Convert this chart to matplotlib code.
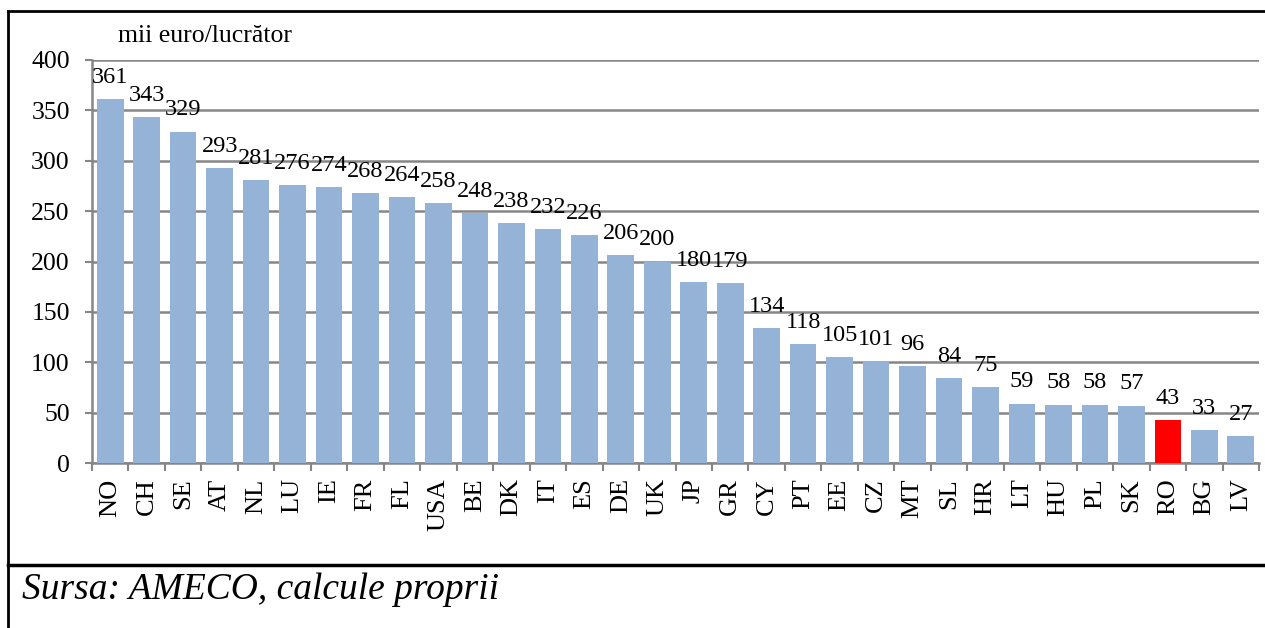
import numpy as np
import matplotlib.pyplot as plt
from matplotlib.lines import Line2D

plt.rcParams['font.family'] = ['Liberation Serif', 'DejaVu Serif']

# Productivity per worker, thousand euro
countries = ['NO', 'CH', 'SE', 'AT', 'NL', 'LU', 'IE', 'FR', 'FL', 'USA', 'BE', 'DK',
             'IT', 'ES', 'DE', 'UK', 'JP', 'GR', 'CY', 'PT', 'EE', 'CZ', 'MT', 'SL',
             'HR', 'LT', 'HU', 'PL', 'SK', 'RO', 'BG', 'LV']
values = [361, 343, 329, 293, 281, 276, 274, 268, 264, 258, 248, 238,
          232, 226, 206, 200, 180, 179, 134, 118, 105, 101, 96, 84,
          75, 59, 58, 58, 57, 43, 33, 27]
highlight = 'RO'
y_ticks = [0, 50, 100, 150, 200, 250, 300, 350, 400]

blue = '#95B3D7'
red = '#FF0000'
grid_col = '#868686'

fig = plt.figure(figsize=(12.65, 6.28), dpi=100)
ax = fig.add_axes([92 / 1265, 1 - 463 / 628, (1259 - 92) / 1265, (463 - 60) / 628])

x = np.arange(len(countries))
colors = [red if c == highlight else blue for c in countries]
ax.bar(x, values, width=0.73, color=colors, zorder=3)

for xi, v in zip(x, values):
    ax.annotate(str(v), (xi, v), xytext=(0, 8), textcoords='offset points',
                ha='center', va='bottom', fontsize=17.5)

ax.set_xlim(-0.5, len(countries) - 0.5)
ax.set_ylim(0, 400)
ax.set_yticks(y_ticks)
ax.yaxis.grid(True, color=grid_col, linewidth=1.8, zorder=0)
ax.tick_params(axis='y', labelsize=18.5, length=5, color=grid_col, width=1.5, pad=11)

ax.set_xticks(x)
ax.set_xticklabels(countries, rotation=90, fontsize=19)
ax.tick_params(axis='x', length=0, pad=11)
ax.set_xticks(np.arange(-0.5, len(countries)), minor=True)
ax.tick_params(axis='x', which='minor', length=6, color=grid_col, width=1.5)

for side in ['top', 'right']:
    ax.spines[side].set_visible(False)
for side in ['left', 'bottom']:
    ax.spines[side].set_color(grid_col)
    ax.spines[side].set_linewidth(1.8)

fig.text(118 / 1265, 1 - 36 / 628, 'mii euro/lucrător', fontsize=18.5, va='center')

# frame lines around the chart and the source note
fig.add_artist(Line2D([8 / 1265, 1], [1 - 11 / 628] * 2, color='black', linewidth=2,
                      transform=fig.transFigure))
fig.add_artist(Line2D([8 / 1265] * 2, [0, 1 - 11 / 628], color='black', linewidth=2,
                      transform=fig.transFigure))
fig.add_artist(Line2D([8 / 1265, 1], [1 - 565 / 628] * 2, color='black', linewidth=2.5,
                      transform=fig.transFigure))

fig.text(22 / 1265, 1 - 590 / 628, 'Sursa: AMECO, calcule proprii', fontsize=27,
         style='italic', va='center')

fig.savefig('out.png', dpi=100)
